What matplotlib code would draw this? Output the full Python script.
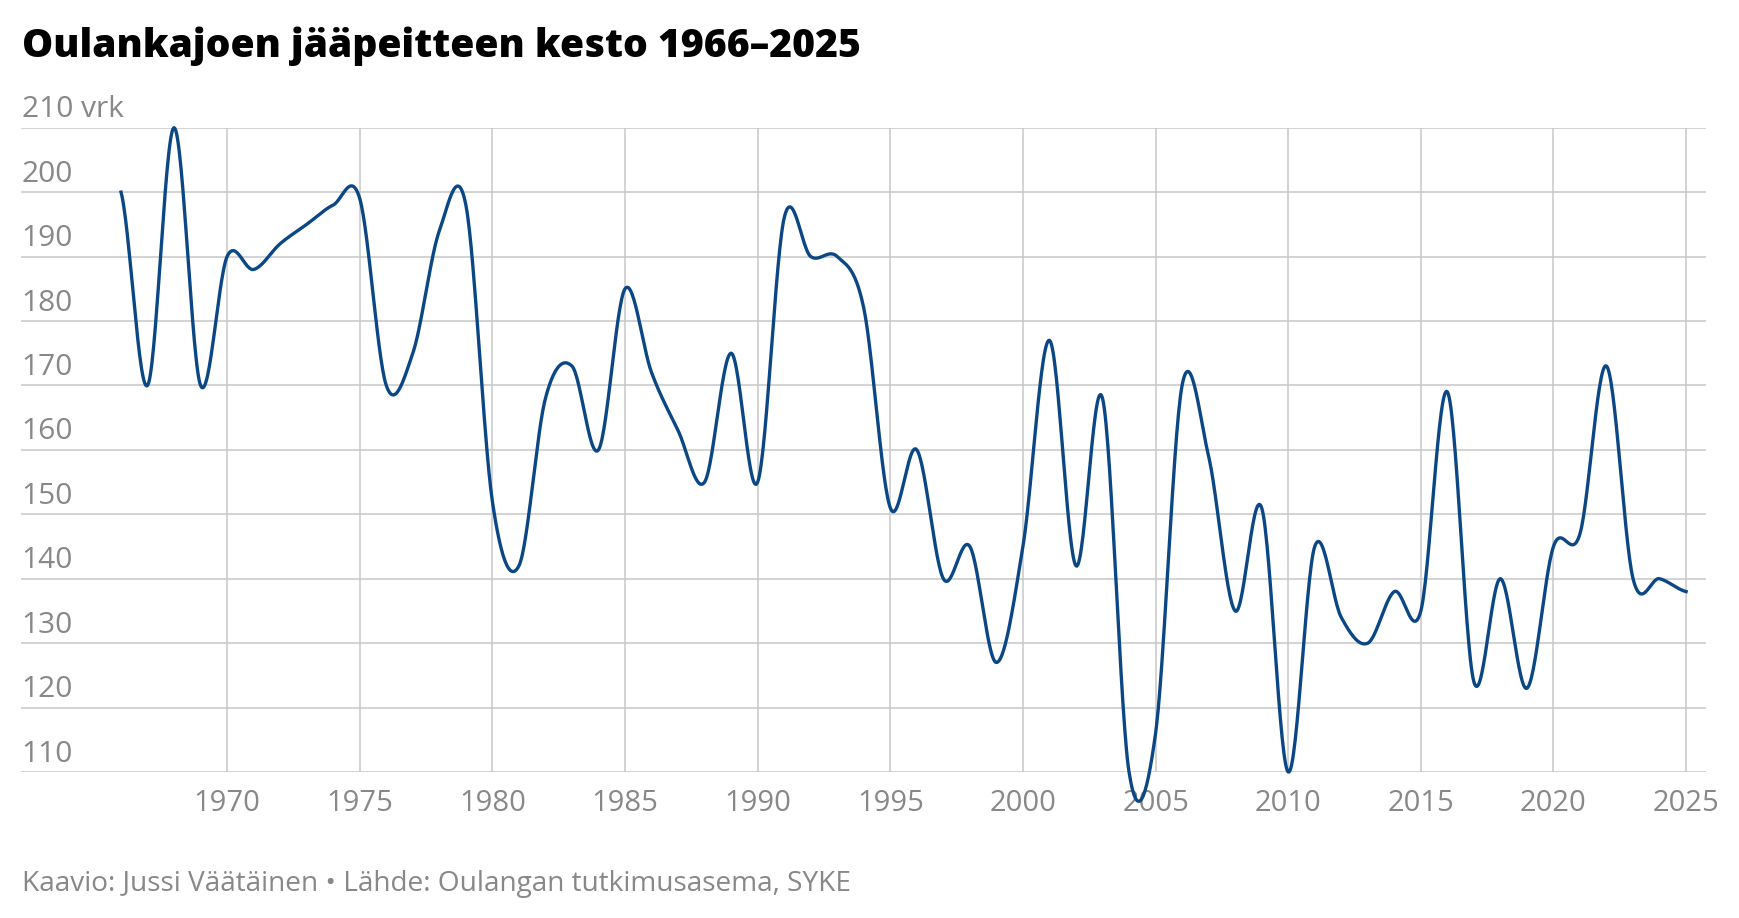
import numpy as np
import matplotlib
matplotlib.use('Agg')
import matplotlib.pyplot as plt

plt.rcParams['font.family'] = ['Open Sans', 'DejaVu Sans']

years = list(range(1966, 2026))
days = [200, 170, 210, 170, 190, 188, 192, 195, 198, 199,
        170, 175, 194, 198, 152, 142, 168, 173, 160, 185,
        172, 163, 155, 175, 155, 196, 190, 190, 182, 151,
        160, 140, 145, 127, 145, 177, 142, 168, 110, 116,
        170, 159, 135, 151, 110, 145, 134, 130, 138, 135,
        169, 124, 140, 123, 145, 147, 173, 140, 140, 138]

y_ticks = list(range(110, 211, 10))
x_ticks = list(range(1970, 2026, 5))

title = 'Oulankajoen jääpeitteen kesto 1966–2025'
footer = 'Kaavio: Jussi Väätäinen • Lähde: Oulangan tutkimusasema, SYKE'

line_color = '#0b4785'
grey = '#888888'
grid_color = '#c8c8c8'


def catmull_rom(x, y, n=30):
    # uniform Catmull-Rom (cardinal, tension 0) through every point
    x = np.asarray(x, float)
    y = np.asarray(y, float)
    m = np.empty_like(y)
    m[1:-1] = (y[2:] - y[:-2]) / 2
    m[0] = (y[1] - y[0]) / 2
    m[-1] = (y[-1] - y[-2]) / 2
    t = np.linspace(0, 1, n, endpoint=False)
    h00 = 2 * t**3 - 3 * t**2 + 1
    h10 = t**3 - 2 * t**2 + t
    h01 = -2 * t**3 + 3 * t**2
    h11 = t**3 - t**2
    xs, ys = [], []
    for i in range(len(x) - 1):
        xs.append(x[i] + t * (x[i + 1] - x[i]))
        ys.append(h00 * y[i] + h10 * m[i] + h01 * y[i + 1] + h11 * m[i + 1])
    xs.append([x[-1]])
    ys.append([y[-1]])
    return np.concatenate(xs), np.concatenate(ys)


W, H = 1740, 918
fig = plt.figure(figsize=(W / 100, H / 100), dpi=100)
ax = fig.add_axes([21 / W, 1 - 772 / H, (1706 - 21) / W, (772 - 127.7) / H])

xs, ys = catmull_rom(years, days)
ax.plot(xs, ys, color=line_color, lw=2.4, clip_on=False, zorder=3,
        solid_joinstyle='round')

ax.set_xlim(1962.23, 2025.75)
ax.set_ylim(110, 210)
ax.set_xticks(x_ticks)
ax.set_yticks(y_ticks)
ax.set_yticklabels([])
ax.grid(True, color=grid_color, lw=1.1)
ax.set_axisbelow(True)
for s in ax.spines.values():
    s.set_visible(False)
ax.tick_params(axis='both', length=0)
ax.tick_params(axis='x', pad=12, labelsize=21, labelcolor=grey)

for v in y_ticks:
    label = f'{v} vrk' if v == 210 else str(v)
    ax.annotate(label, xy=(0, v), xycoords=('axes fraction', 'data'),
                xytext=(0.5, 7.5), textcoords='offset points',
                ha='left', va='baseline', fontsize=21.5, color=grey)

t = fig.text(21.7 / W, 1 - 57.3 / H, title, ha='left', va='baseline',
             fontsize=26, weight='heavy', color='black')
f = fig.text(21.7 / W, 1 - 891 / H, footer, ha='left', va='baseline',
             fontsize=18, color=grey)

# fit title and footer widths to the reference
fig.canvas.draw()
r = fig.canvas.get_renderer()
for txt, target in [(t, 837), (f, 831)]:
    w = txt.get_window_extent(r).width
    txt.set_fontsize(txt.get_fontsize() * target / w)

fig.savefig('out.png', dpi=100)
